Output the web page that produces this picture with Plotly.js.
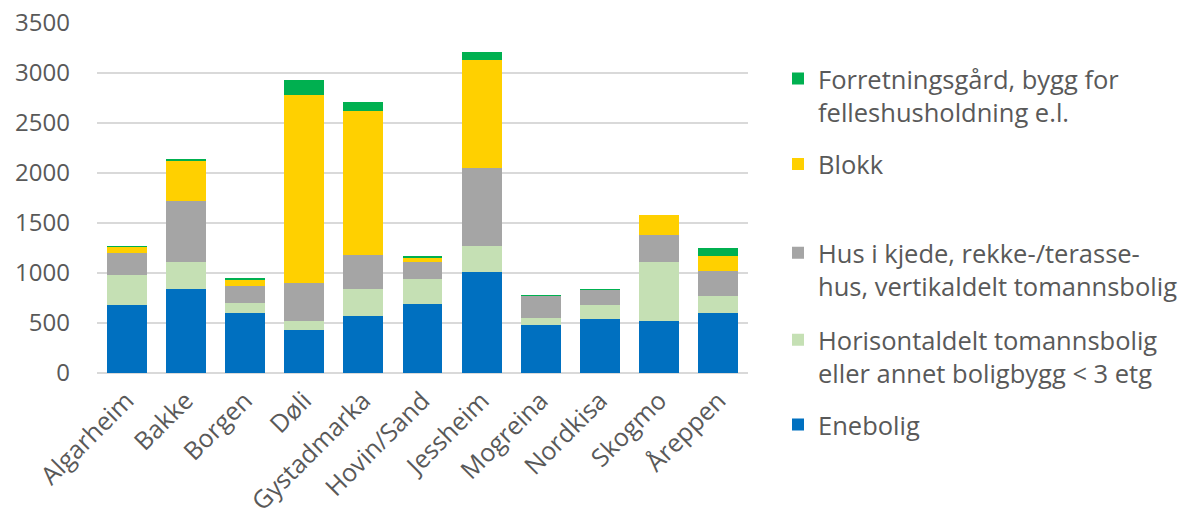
<!DOCTYPE html>
<html><head><meta charset="utf-8">
<script src="https://cdn.plot.ly/plotly-3.0.1.min.js"></script>
<style>html,body{margin:0;padding:0;background:#fff}#chart{width:1184px;height:520px}</style>
</head><body><div id="chart"></div>
<script>
const categories = ["Algarheim","Bakke","Borgen","Døli","Gystadmarka","Hovin/Sand","Jessheim","Mogreina","Nordkisa","Skogmo","Åreppen"];
const enebolig       = [680, 840, 605, 435, 572, 694, 1014, 479, 542, 522, 605];
const horisontaldelt = [300, 270, 100,  87, 272, 244,  259,  73, 142, 585, 163];
const husIKjede      = [222, 606, 170, 376, 333, 169,  782, 216, 144, 269, 256];
const blokk          = [ 55, 405,  57,1885,1443,  46, 1080,   0,   0, 203, 149];
const forretning     = [ 13,  20,  17, 143,  86,  20,   73,  10,  13,   0,  80];
const seriesNames = [
  "Enebolig",
  "Horisontaldelt tomannsbolig<br>eller annet boligbygg &lt; 3 etg",
  "Hus i kjede, rekke-/terasse-<br>hus, vertikaldelt tomannsbolig",
  "Blokk",
  "Forretningsgård, bygg for<br>felleshusholdning e.l."
];
const yTicks = [0,500,1000,1500,2000,2500,3000,3500];

const seriesValues = [enebolig, horisontaldelt, husIKjede, blokk, forretning];
const colors = ["#0070c0","#c5e0b4","#a5a5a5","#ffd000","#00b050"];
const legendIds = ["legend5","legend4","legend3","legend2","legend"];
// legend item centre (px from top)
const legendCenters = [425, 356.7, 269.7, 164.3, 95.5];

const FONT = "'Open Sans', sans-serif";
const TXT = "#595959";
const W = 1184, H = 520;

const traces = seriesValues.map((vals, i) => ({
  type: "bar",
  name: seriesNames[i],
  x: categories,
  y: vals,
  marker: {color: colors[i], line: {width: 0}},
  legend: legendIds[i],
  hoverinfo: "x+y+name"
}));

const layout = {
  width: W, height: H,
  barmode: "stack",
  bargap: 0.325,
  paper_bgcolor: "#fff",
  plot_bgcolor: "#fff",
  margin: {l: 97, r: 436, t: 23, b: 147},
  font: {family: FONT, color: TXT, size: 24},
  xaxis: {
    tickangle: -45,
    tickfont: {family: FONT, size: 25, color: TXT},
    showgrid: false,
    showline: false,
    ticks: "",
    zeroline: false,
    ticklabelstandoff: 7
  },
  yaxis: {
    range: [0, 3500],
    tickvals: yTicks,
    ticktext: yTicks.map(String),
    tickfont: {family: FONT, size: 24, color: TXT},
    gridcolor: "#d9d9d9",
    gridwidth: 1.5,
    zeroline: true,
    zerolinecolor: "#d9d9d9",
    zerolinewidth: 1.5,
    showline: false,
    ticks: "",
    ticklabelstandoff: 26
  },
  showlegend: true
};

legendIds.forEach((id, i) => {
  layout[id] = {
    xref: "container", yref: "container",
    x: 778 / W, y: 1 - legendCenters[i] / H,
    xanchor: "left", yanchor: "middle",
    valign: "top",
    bgcolor: "rgba(0,0,0,0)",
    font: {family: FONT, size: 25.5, color: TXT},
    itemwidth: 30
  };
});

Plotly.newPlot("chart", traces, layout, {displayModeBar: false, staticPlot: true});
</script>
</body></html>
